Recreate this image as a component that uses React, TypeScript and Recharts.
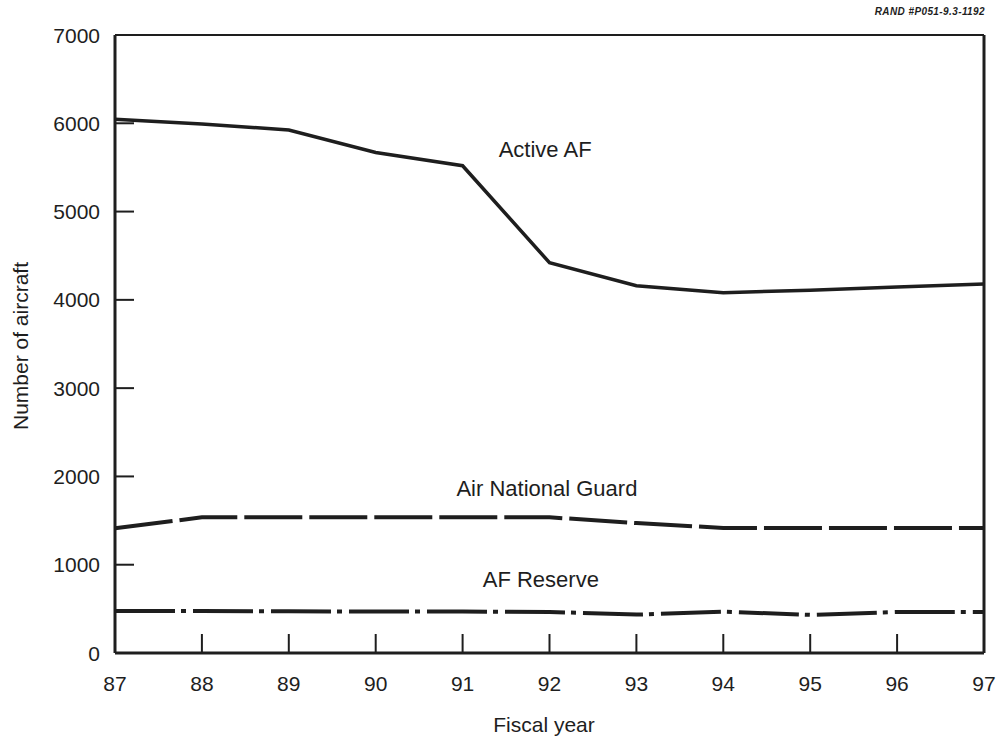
import { LineChart, Line, XAxis, YAxis, ReferenceLine, ReferenceDot } from 'recharts';

const years = [87, 88, 89, 90, 91, 92, 93, 94, 95, 96, 97];
const activeAF = [6045, 5992, 5924, 5670, 5519, 4421, 4160, 4081, 4110, 4145, 4180];
const airGuard = [1412, 1537, 1537, 1537, 1537, 1537, 1472, 1416, 1416, 1416, 1416];
const afReserve = [475, 475, 472, 470, 470, 465, 435, 468, 432, 465, 465];
const yTicks = [0, 1000, 2000, 3000, 4000, 5000, 6000, 7000];

const seriesLabels = [
  { text: 'Active AF', x: 91.95, y: 5708 },
  { text: 'Air National Guard', x: 91.97, y: 1869 },
  { text: 'AF Reserve', x: 91.9, y: 838 },
];

const data = years.map((yr, i) => ({
  year: yr,
  active: activeAF[i],
  guard: airGuard[i],
  reserve: afReserve[i],
}));

const INK = '#1e1e1e';
const FONT = '"Liberation Sans", Arial, Helvetica, sans-serif';

function XTick(props: any) {
  const { x, y, payload } = props;
  const inner = payload.value !== 87 && payload.value !== 97;
  return (
    <g>
      {inner && <line x1={x} y1={y} x2={x} y2={y - 19} stroke={INK} strokeWidth={2} />}
      <text x={x} y={y + 38} textAnchor="middle" fontSize={21} fill={INK} fontFamily={FONT}>
        {payload.value}
      </text>
    </g>
  );
}

function YTick(props: any) {
  const { x, y, payload } = props;
  const inner = payload.value !== 0 && payload.value !== 7000;
  return (
    <g>
      {inner && <line x1={x} y1={y} x2={x + 19} y2={y} stroke={INK} strokeWidth={2} />}
      <text x={x - 15} y={y + 7.5} textAnchor="end" fontSize={21} fill={INK} fontFamily={FONT}>
        {payload.value}
      </text>
    </g>
  );
}

function YTitle() {
  return (
    <text
      x={20}
      y={346}
      transform="rotate(-90 20 346)"
      textAnchor="middle"
      dominantBaseline="central"
      fontSize={21}
      fill={INK}
      fontFamily={FONT}
    >
      Number of aircraft
    </text>
  );
}

function XTitle() {
  return (
    <text x={544} y={732} textAnchor="middle" fontSize={21} fill={INK} fontFamily={FONT}>
      Fiscal year
    </text>
  );
}

export default function App() {
  return (
    <div style={{ position: 'absolute', left: 0, top: 0, width: 999, height: 738, background: '#fff' }}>
      <div
        style={{
          position: 'absolute',
          right: 14,
          top: 6,
          fontFamily: FONT,
          fontSize: 10,
          fontWeight: 'bold',
          fontStyle: 'italic',
          color: INK,
          letterSpacing: 0.4,
        }}
      >
        RAND #P051-9.3-1192
      </div>
      <LineChart width={999} height={738} data={data} margin={{ top: 35, right: 15, bottom: 45, left: 0 }}>
        <XAxis
          dataKey="year"
          type="number"
          domain={[87, 97]}
          ticks={years}
          tickLine={false}
          tickSize={0}
          tickMargin={0}
          height={40}
          axisLine={{ stroke: INK, strokeWidth: 3 }}
          tick={<XTick />}
          label={<XTitle />}
        />
        <YAxis
          type="number"
          domain={[0, 7000]}
          ticks={yTicks}
          tickLine={false}
          tickSize={0}
          tickMargin={0}
          width={115}
          axisLine={{ stroke: INK, strokeWidth: 3 }}
          tick={<YTick />}
          label={<YTitle />}
        />
        <ReferenceLine y={7000} stroke={INK} strokeWidth={2} />
        <ReferenceLine x={97} stroke={INK} strokeWidth={3} />
        <Line
          dataKey="active"
          type="linear"
          stroke={INK}
          strokeWidth={3.5}
          dot={false}
          isAnimationActive={false}
        />
        <Line
          dataKey="guard"
          type="linear"
          stroke={INK}
          strokeWidth={4}
          strokeDasharray="58 7"
          dot={false}
          isAnimationActive={false}
        />
        <Line
          dataKey="reserve"
          type="linear"
          stroke={INK}
          strokeWidth={4}
          strokeDasharray="60 6 5 7"
          dot={false}
          isAnimationActive={false}
        />
        {seriesLabels.map((l) => (
          <ReferenceDot
            key={l.text}
            x={l.x}
            y={l.y}
            r={0}
            fill="none"
            stroke="none"
            label={{ value: l.text, position: 'center', fontSize: 22, fill: INK, fontFamily: FONT }}
          />
        ))}
      </LineChart>
    </div>
  );
}
